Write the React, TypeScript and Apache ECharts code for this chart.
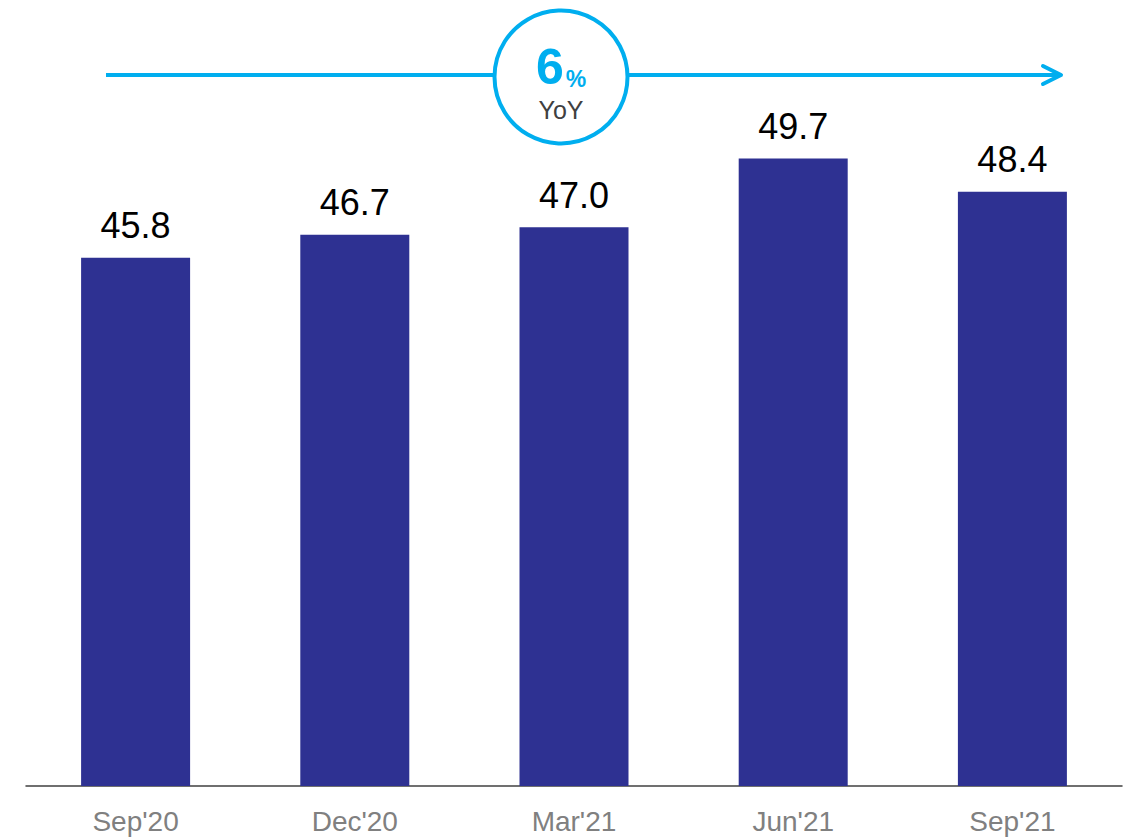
import React, { useEffect, useRef } from "react";
import * as echarts from "echarts";

const categories = ["Sep'20", "Dec'20", "Mar'21", "Jun'21", "Sep'21"];
const values = [45.8, 46.7, 47.0, 49.7, 48.4];
const growthValue = "6";
const growthUnit = "%";
const growthLabel = "YoY";

const BAR = "#2E3192";
const BLUE = "#00AEEF";
const FONT = "Liberation Sans, Arial, sans-serif";

export default function App() {
  const ref = useRef<HTMLDivElement>(null);
  useEffect(() => {
    document.body.style.margin = "0";
    const chart = echarts.init(ref.current!, null, { renderer: "svg" });
    chart.setOption({
      animation: false,
      grid: { left: 26, right: 8, top: 24, bottom: 53 },
      xAxis: {
        type: "category",
        data: categories,
        axisLine: { show: true, lineStyle: { color: "#404040", width: 1.5 } },
        axisTick: { show: false },
        axisLabel: { color: "#808080", fontSize: 28, fontFamily: FONT, margin: 21 },
      },
      yAxis: {
        type: "value",
        min: 25,
        max: 55,
        show: false,
        splitLine: { show: false },
      },
      series: [
        {
          type: "bar",
          data: values,
          barWidth: 109,
          itemStyle: { color: BAR },
          label: {
            show: true,
            position: "top",
            distance: 14,
            color: "#000",
            fontSize: 36,
            fontFamily: FONT,
            formatter: (p: any) => Number(p.value).toFixed(1),
          },
        },
      ],
      graphic: [
        {
          type: "line",
          shape: { x1: 106, y1: 75, x2: 1061, y2: 75 },
          style: { stroke: BLUE, lineWidth: 4 },
        },
        {
          type: "polyline",
          shape: { points: [[1043, 66], [1061, 75], [1043, 84]] },
          style: { stroke: BLUE, lineWidth: 4, fill: null, lineCap: "round", lineJoin: "round" },
        },
        {
          type: "circle",
          shape: { cx: 561, cy: 77, r: 66.5 },
          style: { stroke: BLUE, lineWidth: 4, fill: "#fff" },
        },
        {
          type: "text",
          x: 561,
          y: 92,
          style: {
            text: `{v|${growthValue}}{u|${growthUnit}}`,
            align: "center",
            verticalAlign: "bottom",
            rich: {
              v: { fontSize: 50, fontWeight: "bold", fill: BLUE, fontFamily: FONT, verticalAlign: "bottom" },
              u: { fontSize: 23, fontWeight: "bold", fill: BLUE, fontFamily: FONT, verticalAlign: "bottom", padding: [0, 0, 2, 2] },
            },
          },
        },
        {
          type: "text",
          x: 561,
          y: 110,
          style: {
            text: growthLabel,
            align: "center",
            verticalAlign: "middle",
            fontSize: 25,
            fill: "#404040",
            fontFamily: FONT,
          },
        },
      ],
    });
    return () => chart.dispose();
  }, []);
  return <div ref={ref} style={{ width: 1130, height: 839 }} />;
}
